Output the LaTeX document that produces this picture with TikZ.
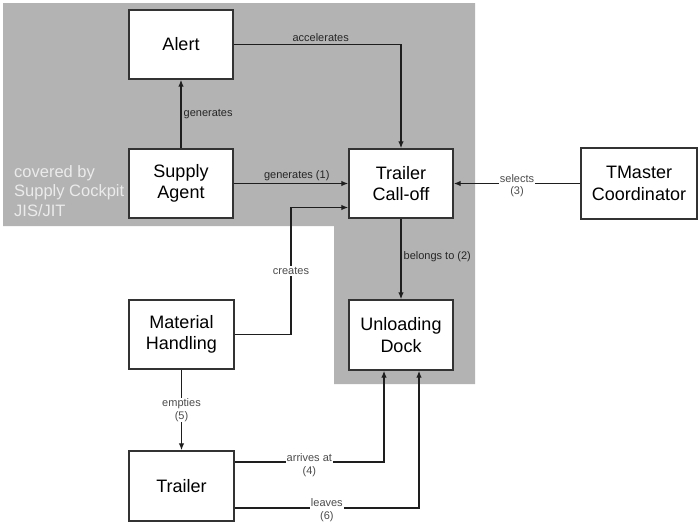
\documentclass[tikz,border=0pt]{standalone}
\usepackage{fontspec}
\setmainfont{Liberation Sans}
\usetikzlibrary{arrows.meta,calc}
\definecolor{zone}{HTML}{B3B3B3}
\definecolor{zonetext}{HTML}{EBEBEB}
\definecolor{edge}{HTML}{1E1E1E}
\definecolor{frame}{HTML}{333333}
\tikzset{
  entity/.style={draw=frame, line width=1.4pt, fill=white, align=center,
    minimum width=104pt, minimum height=69pt, inner sep=2pt,
    font=\fontsize{18}{21.5}\selectfont},
  link/.style={draw=edge, line width=1.3pt, -{Latex[length=7pt,width=5.5pt]}},
  tag/.style={font=\fontsize{11}{12.5}\selectfont, text=black!85, inner sep=2pt},
  ontag/.style={tag, fill=white, text=black!70, align=center, inner sep=1pt}
}
\begin{document}
\begin{tikzpicture}[x=1pt,y=-1pt]
\useasboundingbox (0,0) rectangle (698,522);
% shaded area of the cockpit scope
\fill[zone] (3,3) -- (475,3) -- (475,384) -- (334,384) -- (334,226) -- (3,226) -- cycle;
\node[anchor=north west, align=left, text=zonetext, inner sep=0pt,
  font=\fontsize{16.5}{19.5}\selectfont] (scope) at (14,165)
  {covered by\\Supply Cockpit\\JIS/JIT};

% entities
\node[entity] (alert) at (181,44.5) {Alert};
\node[entity] (agent) at (181,183.5) {Supply\\Agent};
\node[entity] (call) at (401,183.5) {Trailer\\Call-off};
\node[entity, minimum width=116pt, minimum height=71pt] (tm) at (639,183.5) {TMaster\\Coordinator};
\node[entity, minimum height=70pt] (dock) at (401,335) {Unloading\\Dock};
\node[entity, minimum width=105pt] (mh) at (181.5,334.5) {Material\\Handling};
\node[entity, minimum width=105pt, minimum height=70pt] (trl) at (181.5,486) {Trailer};

% relations
\draw[link] (agent) -- node[tag, right, pos=0.5] {generates} (alert);
\draw[link] (alert.east) -| node[tag, above, pos=0.26] {accelerates} (call.north);
\draw[link] (agent.east) -- node[tag, above, pos=0.55] {generates (1)} (call.west);
\coordinate (mhbend) at (291,207.5);
\draw[link] (mh.east) -| (mhbend) -- (call.west |- mhbend);
\node[ontag] (creates) at (291,271) {creates};
\draw[link] (tm.west) -- node[ontag, yshift=-2pt] {selects\\(3)} (call.east);
\draw[link] (call) -- node[tag, right, pos=0.47] {belongs to (2)} (dock);
\draw[link] (mh) -- node[ontag] {empties\\(5)} (trl);
\draw[link] ($(trl.east)+(0,-24)$) -| node[ontag, pos=0.25, yshift=-3pt] {arrives at\\(4)} ($(dock.south)+(-17,0)$);
\draw[link] ($(trl.east)+(0,22)$) -| node[ontag, pos=0.25, yshift=-2pt] {leaves\\(6)} ($(dock.south)+(18,0)$);
\end{tikzpicture}
\end{document}
